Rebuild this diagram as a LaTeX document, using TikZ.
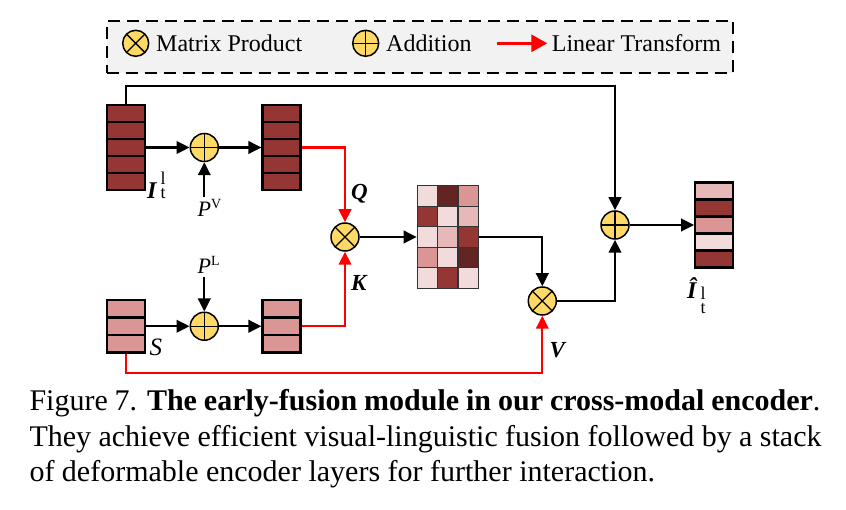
\documentclass[tikz,border=0pt]{standalone}
\usepackage{fontspec}
\setmainfont{Liberation Serif}
\usetikzlibrary{arrows.meta,calc}
\definecolor{dk}{HTML}{943634}
\definecolor{dkk}{HTML}{632523}
\definecolor{md}{HTML}{D99694}
\definecolor{lt}{HTML}{E6B9B8}
\definecolor{vl}{HTML}{F2DCDB}
\definecolor{gold}{HTML}{FFD966}
\definecolor{legbg}{HTML}{F2F2F2}
\tikzset{
  cell/.style={rectangle,draw,line width=2.2pt,minimum width=38pt,minimum height=17pt,inner sep=0pt},
  mcell/.style={rectangle,draw=black!80,line width=1.4pt,minimum width=20.3pt,minimum height=20.5pt,inner sep=0pt},
  opc/.style={circle,draw,fill=gold,minimum size=28pt,inner sep=0pt,line width=1.5pt},
  plusc/.style={opc,path picture={\draw[line width=1.3pt] (path picture bounding box.north) -- (path picture bounding box.south) (path picture bounding box.west) -- (path picture bounding box.east);}},
  mulc/.style={opc,path picture={\draw[line width=1.3pt] (path picture bounding box.north west) -- (path picture bounding box.south east) (path picture bounding box.south west) -- (path picture bounding box.north east);}},
  arr/.style={line width=2.3pt,-{Triangle[length=13pt,width=12.5pt]}},
  rarr/.style={arr,red},
  lbl/.style={anchor=base west,inner sep=0pt},
  bi/.style={lbl,font=\fontsize{23}{23}\selectfont\bfseries\itshape},
}
\begin{document}
\begin{tikzpicture}[x=1pt,y=-1pt]
\useasboundingbox (0,0) rectangle (846,510);
% legend
\node[draw,dashed,dash pattern=on 12pt off 7pt,line width=2.3pt,fill=legbg,minimum width=626.6pt,minimum height=51.7pt,inner sep=0pt] (leg) at (420,46.85) {};
\node[mulc,minimum size=26pt] (lm) at (135.7,43.3) {};
\node[lbl,font=\fontsize{24}{24}\selectfont] (lmt) at (156,51.7) {Matrix Product};
\node[plusc,minimum size=26pt] (lp) at (365.7,43.3) {};
\node[lbl,font=\fontsize{24}{24}\selectfont] (lpt) at (386,51.7) {Addition};
\coordinate (la) at (496.7,43.3);
\coordinate (lb) at (547.3,43.3);
\draw[red,line width=3pt,-{Triangle[length=16pt,width=17pt]}] (la) -- (lb);
\node[lbl,font=\fontsize{24}{24}\selectfont] (llt) at (551.7,51.7) {Linear Transform};
% stacks
\foreach \i/\c in {1/dk,2/dk,3/dk,4/dk,5/dk}
  \node[cell,fill=\c] (I\i) at (125.85,{113.5+17*(\i-1)}) {};
\foreach \i/\c in {1/dk,2/dk,3/dk,4/dk,5/dk}
  \node[cell,fill=\c] (J\i) at (281.5,{113.5+17*(\i-1)}) {};
\foreach \i in {1,2,3}
  \node[cell,fill=md,minimum height=17.5pt] (S\i) at (125.85,{308.75+17.5*(\i-1)}) {};
\foreach \i in {1,2,3}
  \node[cell,fill=md,minimum height=17.5pt] (T\i) at (281.5,{308.75+17.5*(\i-1)}) {};
\foreach \i/\c in {1/lt,2/dk,3/md,4/vl,5/dk}
  \node[cell,fill=\c] (O\i) at (714.2,{191+17*(\i-1)}) {};
% matrix
\foreach \r/\a/\b/\cc in {1/vl/dkk/md,2/dk/vl/lt,3/vl/lt/dk,4/md/vl/dkk,5/vl/dk/vl}{
  \node[mcell,fill=\a] (M\r1) at (427.5,{196+20.5*(\r-1)}) {};
  \node[mcell,fill=\b] (M\r2) at (447.8,{196+20.5*(\r-1)}) {};
  \node[mcell,fill=\cc] (M\r3) at (468.1,{196+20.5*(\r-1)}) {};
}
% operators
\node[plusc] (plus1) at (204.3,147.5) {};
\node[plusc] (plus2) at (204.3,326.25) {};
\node[mulc] (mul1) at (345,237) {};
\node[mulc] (mul2) at (542.3,301) {};
\node[plusc] (plus3) at (615,225) {};
% labels
\node[lbl] (Il) at (147,198.5) {\fontsize{24}{24}\selectfont\bfseries\itshape I\hspace{4pt}\normalfont\fontsize{18}{18}\selectfont\makebox[0pt][l]{\raisebox{14pt}{l}}t};
\node[lbl] (Ohat) at (687,298.5) {\fontsize{24}{24}\selectfont\bfseries\itshape Î\hspace{4pt}\normalfont\fontsize{18}{18}\selectfont\makebox[0pt][l]{\raisebox{-1pt}{l}}\raisebox{-15pt}{t}};
\node[lbl] (PV) at (197.5,217) {\fontsize{22}{22}\selectfont\itshape P\normalfont\fontsize{14}{14}\selectfont\raisebox{8pt}{V}};
\node[lbl] (PL) at (197.5,273.5) {\fontsize{22}{22}\selectfont\itshape P\normalfont\fontsize{14}{14}\selectfont\raisebox{8pt}{L}};
\node[bi] (Q) at (351,200) {Q};
\node[bi] (K) at (351,290.5) {K};
\node[bi] (V) at (549.5,357.5) {V};
\node[lbl,font=\fontsize{25}{25}\selectfont\itshape] (S) at (149.5,356) {S};
% connectors
\coordinate (pvt) at (204.3,197);
\coordinate (plt) at (204.3,277);
\draw[arr] (I3.east) -- (plus1.west);
\draw[arr] (plus1.east) -- (J3.west);
\draw[arr] (pvt) -- (plus1.south);
\draw[arr] (plt) -- (plus2.north);
\draw[arr] (S2.east) -- (plus2.west);
\draw[arr] (plus2.east) -- (T2.west);
\draw[rarr] (J3.east) -| (mul1.north);
\draw[rarr] (T2.east) -| (mul1.south);
\draw[arr] (mul1.east) -- (M31.west);
\draw[arr] (M33.east) -| (mul2.north);
\draw[arr] (mul2.east) -| (plus3.south);
\coordinate (tc) at (615,86);
\draw[arr] (I1.north) |- (tc) -- (plus3.north);
\draw[arr] (plus3.east) -- (O3.west);
\coordinate (vc) at (542.3,372.7);
\draw[rarr] (S3.south) |- (vc) -- (mul2.south);
% caption
\node[lbl,font=\fontsize{30}{30}\selectfont] (c1) at (29.3,410.7) {\makebox[791pt][s]{Figure 7. \textbf{The early-fusion module in our cross-modal encoder}.}};
\node[lbl,font=\fontsize{30}{30}\selectfont] (c2) at (29.3,446.7) {\makebox[792pt][s]{They achieve efficient visual-linguistic fusion followed by a stack}};
\node[lbl,font=\fontsize{30}{30}\selectfont] (c3) at (29.3,481.7) {of deformable encoder layers for further interaction.};
\end{tikzpicture}
\end{document}
